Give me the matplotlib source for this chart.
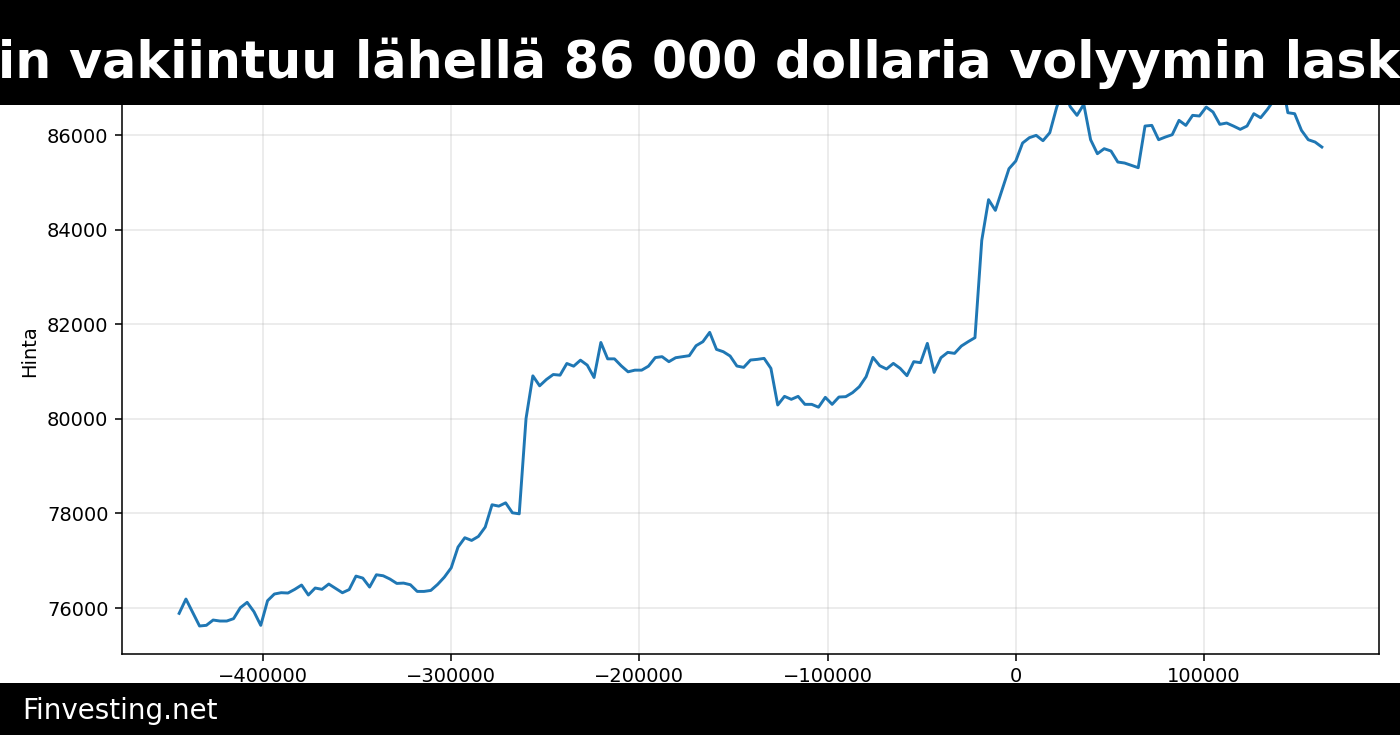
import numpy as np
import matplotlib
matplotlib.use("Agg")
import matplotlib.pyplot as plt
from matplotlib.patches import Rectangle

# ---- data ----
title_text = "Bitcoin vakiintuu lähellä 86 000 dollaria volyymin laskiessa"
footer_text = "Finvesting.net"
y_label = "Hinta"

# time offsets in seconds (hourly samples)
x_start = -444300
x_step = 3612

price = [
    75887, 76190, 75905, 75620, 75634, 75746, 75725, 75725, 75775, 76007,
    76120, 75922, 75634, 76155, 76296, 76324, 76317, 76395, 76486, 76275,
    76423, 76395, 76507, 76416, 76323, 76390, 76675, 76633, 76443, 76703,
    76682, 76612, 76520, 76527, 76492, 76351, 76351, 76372, 76499, 76654,
    76851, 77288, 77486, 77429, 77514, 77711, 78183, 78154, 78224, 78013,
    77992, 80007, 80909, 80698, 80832, 80937, 80923, 81170, 81113, 81240,
    81135, 80874, 81614, 81268, 81268, 81120, 80994, 81029, 81029, 81113,
    81295, 81314, 81208, 81292, 81314, 81335, 81546, 81631, 81828, 81468,
    81419, 81328, 81116, 81088, 81243, 81257, 81278, 81067, 80292, 80475,
    80412, 80475, 80306, 80306, 80246, 80454, 80306, 80461, 80468, 80553,
    80679, 80891, 81299, 81123, 81053, 81172, 81067, 80912, 81208, 81187,
    81595, 80982, 81292, 81405, 81384, 81539, 81631, 81716, 83773, 84633,
    84407, 84844, 85288, 85450, 85831, 85944, 85993, 85880, 86049, 86580,
    87000, 86600, 86416, 86650, 85901, 85605, 85711, 85662, 85429, 85408,
    85359, 85309, 86190, 86204, 85901, 85958, 86007, 86310, 86204, 86416,
    86402, 86592, 86486, 86226, 86254, 86190, 86120, 86190, 86451, 86366,
    86543, 86750, 87250, 86472, 86451, 86099, 85901, 85852, 85746,
]

x = x_start + x_step * np.arange(len(price))

# ---- figure ----
fig = plt.figure(figsize=(10, 5.25), dpi=140)
ax = fig.add_axes([122 / 1400, 81.5 / 735, (1379 - 122) / 1400, (653.5 - 48.4) / 735])
ax.plot(x, price, color="#1f77b4", linewidth=1.5)
ax.set_ylabel(y_label)
ax.grid(True, alpha=0.3)

# title bar (overlay)
fig.patches.append(Rectangle((0, 1 - 105 / 735), 1, 105 / 735, transform=fig.transFigure,
                             facecolor="black", edgecolor="none", zorder=10))
fig.text(0.5, 1 - 78.3 / 735, title_text, ha="center", va="baseline", color="white",
         fontsize=26.1, fontweight="bold", zorder=11)

# footer bar
fig.patches.append(Rectangle((0, 0), 1, 52 / 735, transform=fig.transFigure,
                             facecolor="black", edgecolor="none", zorder=10))
fig.text(22 / 1400, 16 / 735, footer_text, ha="left", va="baseline", color="white",
         fontsize=14.3, zorder=11)

fig.savefig("out.png", dpi=140)
